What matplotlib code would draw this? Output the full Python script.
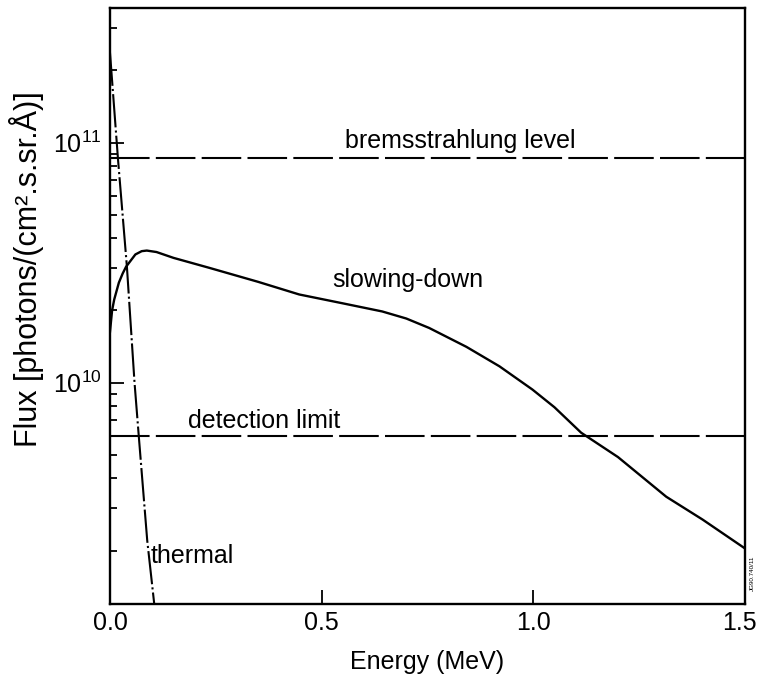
import matplotlib
matplotlib.use('Agg')
from matplotlib import pyplot as plt
from matplotlib import ticker
from matplotlib import transforms

plt.rcParams['font.family'] = ['Liberation Sans', 'DejaVu Sans']
plt.rcParams['mathtext.fontset'] = 'custom'
plt.rcParams['mathtext.rm'] = 'Liberation Sans'
plt.rcParams['mathtext.it'] = 'Liberation Sans'

# slowing-down spectrum (MeV, photons/(cm2.s.sr.A))
slowing_energy = [0.0, 0.005, 0.01, 0.021, 0.03, 0.038, 0.06, 0.075, 0.087, 0.11,
                  0.15, 0.234, 0.35, 0.447, 0.55, 0.643, 0.7, 0.754, 0.842,
                  0.92, 0.998, 1.05, 1.113, 1.2, 1.314, 1.4, 1.5]
slowing_flux = [1.63e10, 2.00e10, 2.22e10, 2.61e10, 2.85e10, 3.04e10, 3.42e10,
                3.53e10, 3.55e10, 3.50e10, 3.31e10, 3.01e10, 2.63e10, 2.33e10,
                2.14e10, 1.98e10, 1.85e10, 1.69e10, 1.41e10, 1.17e10, 9.36e9,
                7.9e9, 6.19e9, 4.90e9, 3.35e9, 2.69e9, 2.04e9]

# thermal component
thermal_energy = [0.0, 0.019, 0.040, 0.058, 0.068, 0.088, 0.1045]
thermal_flux = [2.37e11, 8.5e10, 3.04e10, 1.0e10, 6.0e9, 2.2e9, 1.2e9]

bremsstrahlung_level = 8.66e10
detection_limit = 6.0e9

fig = plt.figure(figsize=(7.59, 6.78), dpi=100)
ax = fig.add_axes([0.1449, 0.1091, 0.8366, 0.8789])

ax.plot(slowing_energy, slowing_flux, color='black', lw=1.7)
ax.plot(thermal_energy, thermal_flux, color='black', lw=1.5,
        dashes=(16, 1.5, 1, 1.5))
ax.axhline(bremsstrahlung_level, color='black', lw=1.5, dashes=(19, 3))
ax.axhline(detection_limit, color='black', lw=1.5, dashes=(19, 3))

ax.set_yscale('log')
ax.set_xlim(0, 1.5)
ax.set_ylim(1.197e9, 3.63e11)

ax.set_xticks([0.0, 0.5, 1.0, 1.5])
ax.xaxis.set_major_formatter(ticker.FormatStrFormatter('%.1f'))
ax.set_yticks([1e10, 1e11])
ax.set_yticklabels([r'$10^{10}$', r'$10^{11}$'])
ax.yaxis.set_minor_locator(ticker.LogLocator(base=10, subs=range(2, 10)))
ax.yaxis.set_minor_formatter(ticker.NullFormatter())

ax.tick_params(which='both', direction='in', top=False, right=False,
               labelsize=18, width=1.3)
ax.tick_params(which='major', length=10)
ax.tick_params(which='minor', length=5)
ax.tick_params(axis='x', pad=5)
ax.tick_params(axis='y', pad=6)
for s in ax.spines.values():
    s.set_linewidth(1.7)

# keep the last x label inside the figure
fig.canvas.draw()
last = ax.get_xticklabels()[-1]
last.set_transform(last.get_transform() +
                   transforms.ScaledTranslation(-4 / 72, 0, fig.dpi_scale_trans))

ax.set_xlabel('Energy (MeV)', fontsize=18, labelpad=11)
ax.set_ylabel('Flux [photons/(cm².s.sr.Å)]', fontsize=22)
ax.yaxis.set_label_coords(-0.104, 0.562)

ax.text(0.555, 9.5e10, 'bremsstrahlung level', fontsize=18, va='baseline')
ax.text(0.524, 2.51e10, 'slowing-down', fontsize=18, va='baseline')
ax.text(0.184, 6.47e9, 'detection limit', fontsize=18, va='baseline')
ax.text(0.097, 1.77e9, 'thermal', fontsize=18, va='baseline')

fig.text(0.9915, 0.155, 'JG90.740/11', rotation=90, fontsize=4.5,
         ha='center', va='center')

fig.savefig('out.png', dpi=100)
